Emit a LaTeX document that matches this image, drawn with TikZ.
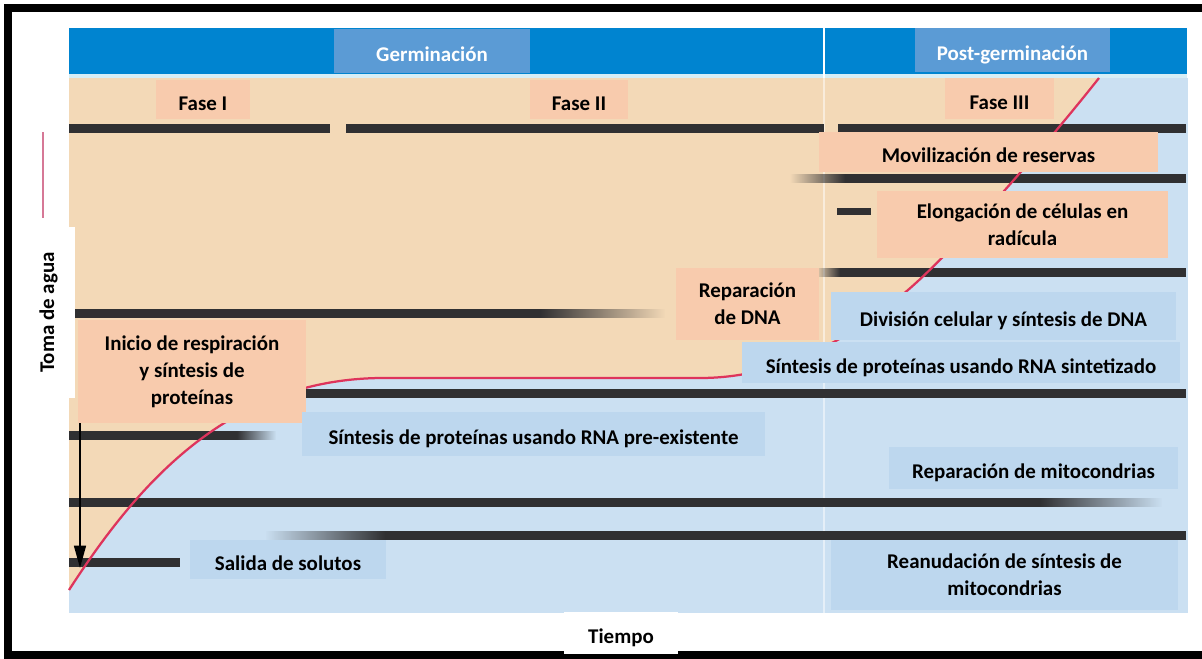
\documentclass[tikz,border=0pt]{standalone}
\usepackage{fontspec}
\setmainfont{Carlito}
\usetikzlibrary{arrows.meta,fadings}

\definecolor{hdrblue}{RGB}{0,132,208}
\definecolor{lblblue}{RGB}{91,155,213}
\definecolor{stripc}{RGB}{215,238,246}
\definecolor{beigebg}{RGB}{243,217,183}
\definecolor{peach}{RGB}{248,203,173}
\definecolor{skybg}{RGB}{203,224,242}
\definecolor{skybox}{RGB}{189,215,238}
\definecolor{barc}{RGB}{48,48,50}
\definecolor{curvec}{RGB}{222,52,92}
\definecolor{legendc}{RGB}{214,120,150}

\tikzfading[name=fadein, left color=transparent!100, right color=transparent!0]
\tikzfading[name=fadeout, left color=transparent!0, right color=transparent!100]

\begin{document}
\begin{tikzpicture}[scale=0.25,
  lblbox/.style={fill=lblblue, text=white},
  peachbox/.style={fill=peach},
  skylbl/.style={fill=skybox},
  whitebox/.style={fill=white},
  oneline/.style={text height=15pt, text depth=0pt},
  multi/.style={align=center}]
\tikzstyle{every node}+=[inner sep=0pt, font=\fontsize{14.9}{19.2}\selectfont\bfseries]
\useasboundingbox (0,0) rectangle (120.2,-65.8);
% frame
\draw [black, line width=0.2cm] (120.2,-0.8) -- (0.8,-0.8) -- (0.8,-65.5) -- (120.2,-65.5);
% header and panel
\fill [hdrblue] (6.9,-2.8) rectangle (118.7,-7.4);
\fill [stripc] (6.9,-7.4) rectangle (118.7,-7.8);
\draw [white, line width=1.5pt] (82.4,-2.8) -- (82.4,-7.8);
\fill [skybg] (6.9,-7.8) rectangle (118.8,-61.3);
\fill [beigebg] (6.9,-7.8) -- (6.9,-59) .. controls (14,-48) and (23,-38) .. (38,-37.8) -- (70,-37.8) .. controls (78,-37.8) and (85,-34) .. (90.8,-29) .. controls (96,-24.5) and (105,-14) .. (109.9,-7.8) -- cycle;
\draw [white, opacity=0.5, line width=1.5pt] (82.4,-7.8) -- (82.4,-61.3);
% bars
\fill [barc] (6.9,-12.35) rectangle (33,-13.25);
\fill [barc] (34.6,-12.35) rectangle (82.4,-13.25);
\fill [barc] (83.8,-12.35) rectangle (118.6,-13.25);
\fill [barc, path fading=fadein] (79,-17.35) rectangle (84.5,-18.25);
\fill [barc] (84.5,-17.35) rectangle (118.6,-18.25);
\fill [barc] (83.7,-20.75) rectangle (87.1,-21.45);
\fill [barc, path fading=fadein] (81.5,-26.75) rectangle (84,-27.65);
\fill [barc] (84,-26.75) rectangle (118.6,-27.65);
\fill [barc] (6.9,-30.85) rectangle (54,-31.75);
\fill [barc, path fading=fadeout] (54,-30.85) rectangle (66.5,-31.75);
\fill [barc] (25,-38.85) rectangle (118.6,-39.75);
\fill [barc] (6.9,-43.05) rectangle (23.7,-43.95);
\fill [barc, path fading=fadeout] (23.7,-43.05) rectangle (27.6,-43.95);
\fill [barc] (6.9,-49.75) rectangle (104,-50.65);
\fill [barc, path fading=fadeout] (104,-49.75) rectangle (116.2,-50.65);
\fill [barc, path fading=fadein] (26.5,-53.05) rectangle (38.5,-53.95);
\fill [barc] (38.5,-53.05) rectangle (118.6,-53.95);
\fill [barc] (6.9,-55.75) rectangle (18,-56.65);
% water uptake
\draw [curvec, line width=1.6pt] (6.9,-59) .. controls (14,-48) and (23,-38) .. (38,-37.8) -- (70,-37.8) .. controls (78,-37.8) and (85,-34) .. (90.8,-29) .. controls (96,-24.5) and (105,-14) .. (109.9,-7.8);
\draw [legendc, line width=1.6pt] (4.3,-13.2) -- (4.3,-21.8);
% labels
\node [lblbox, oneline, minimum width=4.9cm, minimum height=1.1cm] (germ) at (43.2,-5.1) {Germinación};
\node [lblbox, oneline, minimum width=4.875cm, minimum height=1.1cm] (postgerm) at (101.25,-5.0) {Post-germinación};
\node [peachbox, oneline, minimum width=2.35cm, minimum height=0.975cm] (fase1) at (20.3,-9.95) {Fase I};
\node [peachbox, oneline, minimum width=2.45cm, minimum height=0.975cm] (fase2) at (57.9,-9.95) {Fase II};
\node [peachbox, oneline, minimum width=2.725cm, minimum height=1.025cm] (fase3) at (99.95,-9.85) {Fase III};
\node [peachbox, oneline, minimum width=8.475cm, minimum height=1.0cm] (movil) at (98.85,-15.2) {Movilización de reservas};
\node [peachbox, multi, minimum width=7.275cm, minimum height=1.675cm] (elong) at (102.25,-22.45) {Elongación de células en\\radícula};
\node [peachbox, multi, minimum width=3.575cm, minimum height=1.8cm] (repdna) at (74.75,-30.4) {Reparación\\de DNA};
\node [skylbl, oneline, minimum width=8.625cm, minimum height=1.2cm] (divis) at (100.35,-31.6) {División celular y síntesis de DNA};
\node [skylbl, oneline, minimum width=10.95cm, minimum height=1.025cm] (sintnew) at (96.1,-36.25) {Síntesis de proteínas usando RNA sintetizado};
\node [peachbox, multi, minimum width=5.7cm, minimum height=2.575cm] (inicio) at (19.2,-37.15) {Inicio de respiración\\y síntesis de\\proteínas};
\node [skylbl, oneline, minimum width=11.575cm, minimum height=1.1cm] (sintold) at (53.35,-43.4) {Síntesis de proteínas usando RNA pre-existente};
\node [skylbl, oneline, minimum width=7.225cm, minimum height=1.05cm] (repmit) at (103.35,-46.8) {Reparación de mitocondrias};
\node [skylbl, oneline, minimum width=4.9cm, minimum height=0.975cm] (salida) at (28.8,-55.95) {Salida de solutos};
\node [skylbl, multi, minimum width=8.675cm, minimum height=1.75cm] (reanud) at (100.45,-57.5) {Reanudación de síntesis de\\mitocondrias};
\node [whitebox, oneline, minimum width=2.85cm, minimum height=1.05cm] (tiempo) at (62.1,-63.3) {Tiempo};
\node [whitebox, rotate=90, minimum width=4.275cm, minimum height=1.325cm] (toma) at (4.85,-31.25) {Toma de agua};
% arrow
\coordinate (tip) at (8.0,-56.8);
\draw [black, line width=1.3pt, -{Triangle[length=16pt,width=8.5pt]}] (inicio.south west -| tip) -- (tip);
\end{tikzpicture}
\end{document}
